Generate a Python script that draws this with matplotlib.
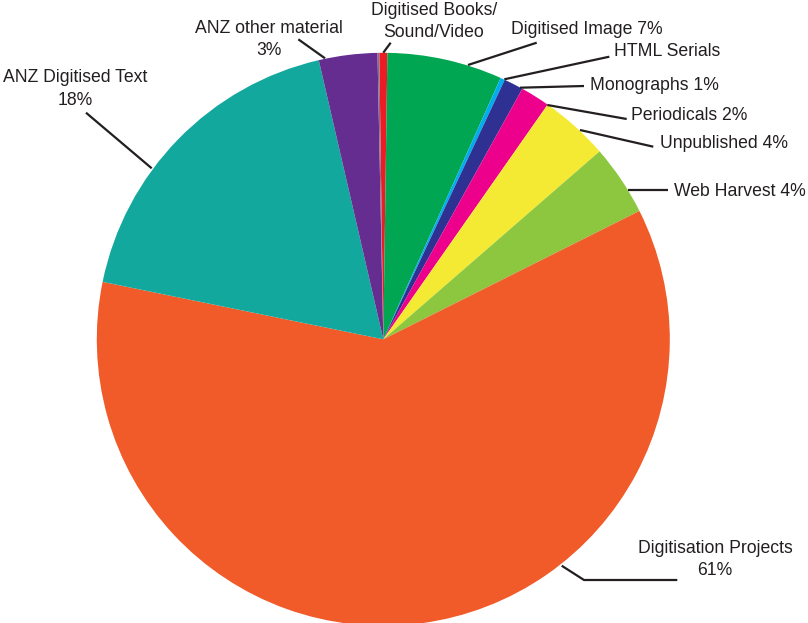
import matplotlib
matplotlib.use("Agg")
import matplotlib.pyplot as plt

categories = ["Digitised Books/Sound/Video", "Digitised Image", "HTML Serials",
              "Monographs", "Periodicals", "Unpublished", "Web Harvest",
              "Digitisation Projects", "ANZ Digitised Text", "ANZ other material", "Other"]
values = [0.45, 6.5, 0.25, 1.1, 1.66, 3.9, 4.0, 60.7, 18.2, 3.3, 0.1]
colors = ["#ED1C24", "#00A651", "#00AEEF", "#2E3192", "#EC008C", "#F4EA34",
          "#8DC63F", "#F15A29", "#13A89E", "#662D91", "#8C6A8C"]
label_texts = ["Digitised Books/\nSound/Video", "Digitised Image 7%", "HTML Serials",
               "Monographs 1%", "Periodicals 2%", "Unpublished 4%", "Web Harvest 4%",
               "Digitisation Projects\n61%", "ANZ Digitised Text\n18%", "ANZ other material\n3%"]

W, H = 808, 623
fig = plt.figure(figsize=(W / 100, H / 100), dpi=100)
ax = fig.add_axes([0, 0, 1, 1])
ax.set_xlim(0, W)
ax.set_ylim(H, 0)
ax.axis("off")

cx, cy, r = 383.3, 339.3, 286.5
pax = fig.add_axes([0, 0, 1, 1])
pax.pie(values, colors=colors, startangle=90.8, counterclock=False,
        center=(cx, H - cy), radius=r, frame=True,
        wedgeprops=dict(linewidth=0))
pax.set_xlim(0, W)
pax.set_ylim(0, H)
pax.set_aspect("auto")
pax.axis("off")

font = dict(family=["Liberation Sans", "DejaVu Sans"], fontsize=12.7, color="#231F20")

placements = [
    (434, 21.5, "center", [(383.3, 52.7), (390.7, 42.7)]),
    (587, 29, "center", [(468, 65), (536.7, 42.7)]),
    (667, 52, "center", [(504.3, 79.3), (609.3, 56.7)]),
    (654, 86, "center", [(520, 87.7), (584, 86)]),
    (689, 116, "center", [(547.3, 105), (626.7, 119)]),
    (724, 144, "center", [(580, 130), (653.3, 146.7)]),
    (740, 191, "center", [(628.3, 190), (668.3, 190)]),
    (715, 559.5, "center", [(561.7, 565.7), (584, 580), (677.3, 580)]),
    (75, 89, "center", [(86, 112.7), (151.7, 168.3)]),
    (269, 39.5, "center", [(298.3, 39.3), (325, 58.3)]),
]

for txt, (tx, ty, ha, pts) in zip(label_texts, placements):
    xs = [p[0] for p in pts]
    ys = [p[1] for p in pts]
    ax.plot(xs, ys, color="#231F20", lw=1.6, solid_capstyle="butt", zorder=5)
    ax.text(tx, ty, txt, ha=ha, va="center", linespacing=1.4, **font, zorder=6)

ax.set_zorder(2)
ax.patch.set_alpha(0)

fig.savefig("out.png", dpi=100)
